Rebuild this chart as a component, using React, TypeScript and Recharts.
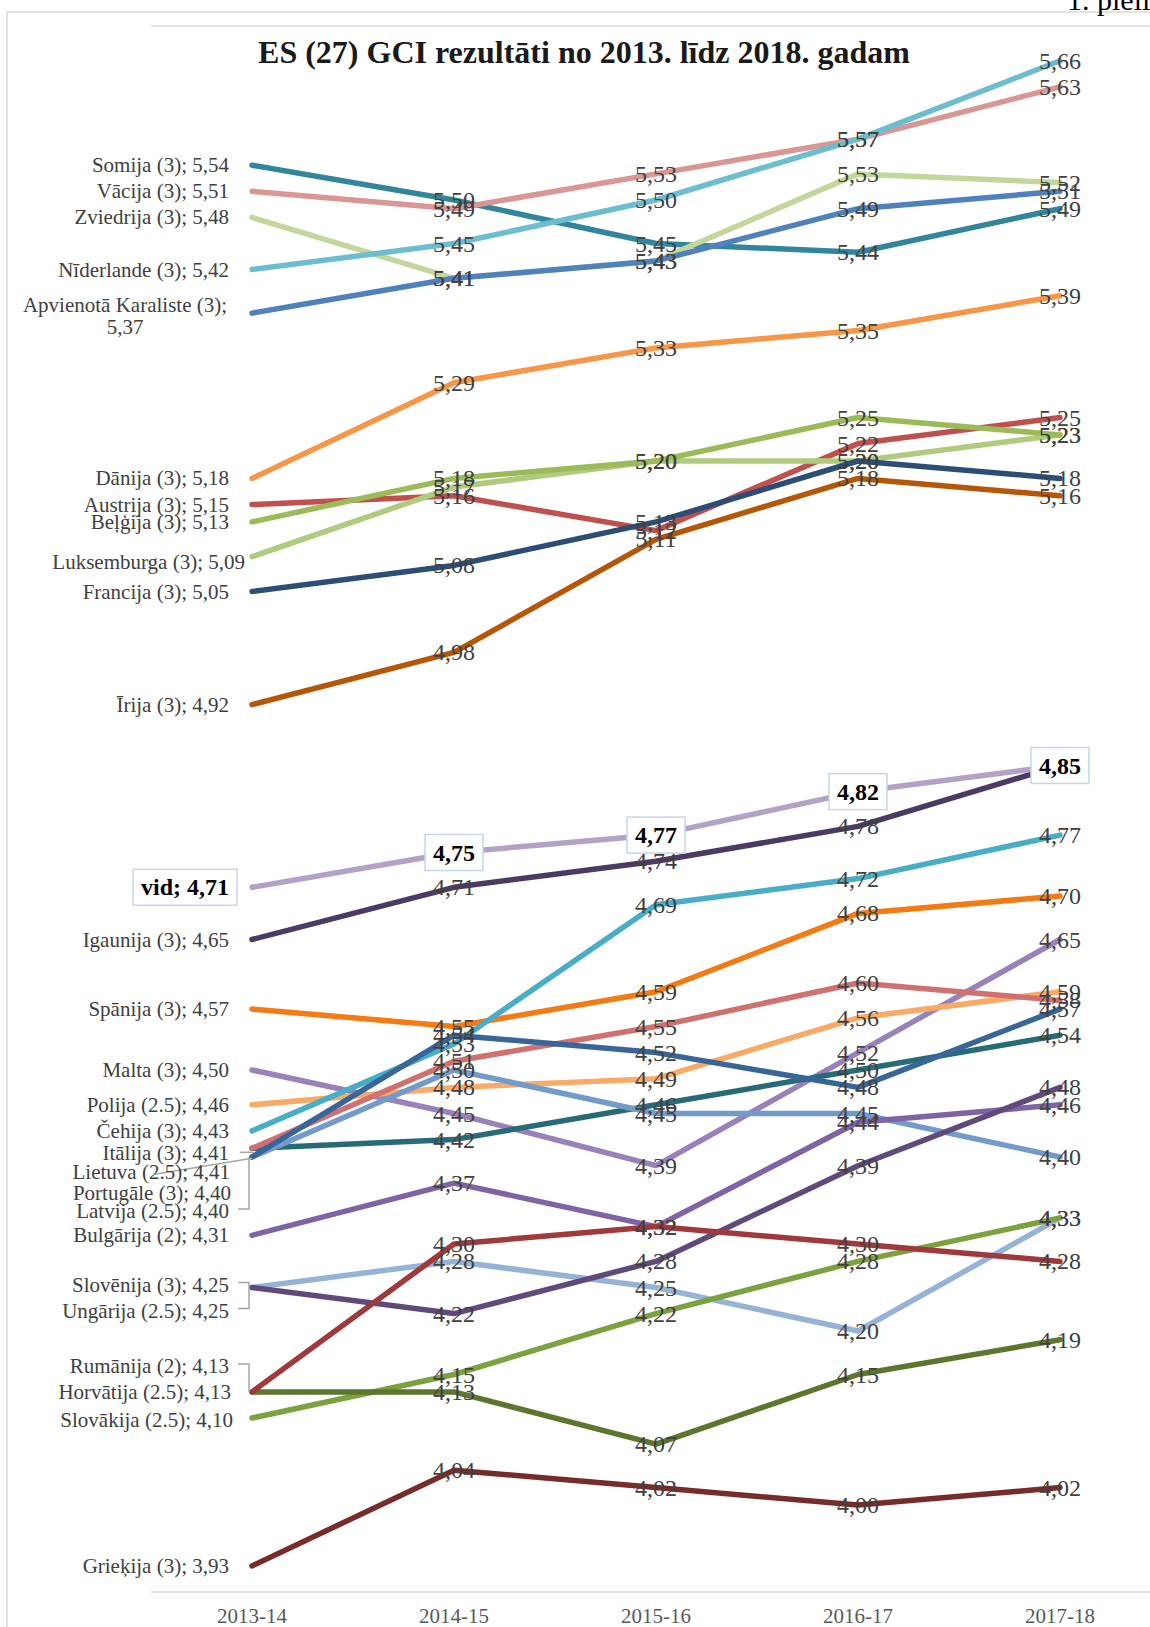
import React from "react";
import { LineChart, Line, XAxis, YAxis, CartesianGrid, LabelList } from "recharts";

const FONT = '"Liberation Serif", "Times New Roman", serif';

const years = ["2013-14", "2014-15", "2015-16", "2016-17", "2017-18"];
const gridTicks = [3.9, 4.1, 4.3, 4.5, 4.7, 4.9, 5.1, 5.3, 5.5, 5.7];

// GCI rezultāti pa gadiem
const somija = [5.54, 5.5, 5.45, 5.44, 5.49];
const vacija = [5.51, 5.49, 5.53, 5.57, 5.63];
const zviedrija = [5.48, 5.41, 5.43, 5.53, 5.52];
const niderlande = [5.42, 5.45, 5.5, 5.57, 5.66];
const apvKaraliste = [5.37, 5.41, 5.43, 5.49, 5.51];
const danija = [5.18, 5.29, 5.33, 5.35, 5.39];
const austrija = [5.15, 5.16, 5.12, 5.22, 5.25];
const belgija = [5.13, 5.18, 5.2, 5.25, 5.23];
const luksemburga = [5.09, 5.17, 5.2, 5.2, 5.23];
const francija = [5.05, 5.08, 5.13, 5.2, 5.18];
const irija = [4.92, 4.98, 5.11, 5.18, 5.16];
const igaunija = [4.65, 4.71, 4.74, 4.78, 4.85];
const spanija = [4.57, 4.55, 4.59, 4.68, 4.7];
const malta = [4.5, 4.45, 4.39, 4.52, 4.65];
const polija = [4.46, 4.48, 4.49, 4.56, 4.59];
const cehija = [4.43, 4.53, 4.69, 4.72, 4.77];
const italija = [4.41, 4.42, 4.46, 4.5, 4.54];
const lietuva = [4.41, 4.51, 4.55, 4.6, 4.58];
const portugale = [4.4, 4.54, 4.52, 4.48, 4.57];
const latvija = [4.4, 4.5, 4.45, 4.45, 4.4];
const bulgarija = [4.31, 4.37, 4.32, 4.44, 4.46];
const slovenija = [4.25, 4.22, 4.28, 4.39, 4.48];
const ungarija = [4.25, 4.28, 4.25, 4.2, 4.33];
const rumanija = [4.13, 4.3, 4.32, 4.3, 4.28];
const horvatija = [4.13, 4.13, 4.07, 4.15, 4.19];
const slovakija = [4.1, 4.15, 4.22, 4.28, 4.33];
const griekija = [3.93, 4.04, 4.02, 4.0, 4.02];
const vid = [4.71, 4.75, 4.77, 4.82, 4.85];

type Series = { key: string; name: string; values: number[]; color: string; avg?: boolean };

const series: Series[] = [
  { key: "somija", name: "Somija (3)", values: somija, color: "#31859C" },
  { key: "vacija", name: "Vācija (3)", values: vacija, color: "#D99694" },
  { key: "zviedrija", name: "Zviedrija (3)", values: zviedrija, color: "#C3D69B" },
  { key: "niderlande", name: "Nīderlande (3)", values: niderlande, color: "#6DBDD1" },
  { key: "apvKaraliste", name: "Apvienotā Karaliste (3)", values: apvKaraliste, color: "#4F81BD" },
  { key: "danija", name: "Dānija (3)", values: danija, color: "#F79646" },
  { key: "austrija", name: "Austrija (3)", values: austrija, color: "#C0504D" },
  { key: "luksemburga", name: "Luksemburga (3)", values: luksemburga, color: "#AFCB7E" },
  { key: "belgija", name: "Beļģija (3)", values: belgija, color: "#9BBB59" },
  { key: "irija", name: "Īrija (3)", values: irija, color: "#B65708" },
  { key: "francija", name: "Francija (3)", values: francija, color: "#2C4D75" },
  { key: "spanija", name: "Spānija (3)", values: spanija, color: "#F47B13" },
  { key: "malta", name: "Malta (3)", values: malta, color: "#9982BA" },
  { key: "polija", name: "Polija (2.5)", values: polija, color: "#F9AA66" },
  { key: "cehija", name: "Čehija (3)", values: cehija, color: "#48ADC6" },
  { key: "italija", name: "Itālija (3)", values: italija, color: "#286B78" },
  { key: "lietuva", name: "Lietuva (2.5)", values: lietuva, color: "#D0716F" },
  { key: "latvija", name: "Latvija (2.5)", values: latvija, color: "#729ACB" },
  { key: "portugale", name: "Portugāle (3)", values: portugale, color: "#386699" },
  { key: "bulgarija", name: "Bulgārija (2)", values: bulgarija, color: "#7E63A5" },
  { key: "ungarija", name: "Ungārija (2.5)", values: ungarija, color: "#95B3D7" },
  { key: "slovenija", name: "Slovēnija (3)", values: slovenija, color: "#604A7B" },
  { key: "slovakija", name: "Slovākija (2.5)", values: slovakija, color: "#7BA23F" },
  { key: "horvatija", name: "Horvātija (2.5)", values: horvatija, color: "#5D762E" },
  { key: "rumanija", name: "Rumānija (2)", values: rumanija, color: "#A0393B" },
  { key: "griekija", name: "Grieķija (3)", values: griekija, color: "#772C2A" },
  { key: "igaunija", name: "Igaunija (3)", values: igaunija, color: "#4A3A64" },
  { key: "vid", name: "vid", values: vid, color: "#B3A2C7", avg: true },
];

const rows = years.map((year, i) => {
  const row: Record<string, string | number> = { year };
  series.forEach((s) => (row[s.key] = s.values[i]));
  return row;
});

// pirmā punkta uzrakstu nobīdes un vadlīnijas
const startLabelMove: Record<string, { dx?: number; dy?: number; leader?: string }> = {
  "Luksemburga (3)": { dx: 16, dy: 5 },
  "Itālija (3)": { dy: 5, leader: "short" },
  "Lietuva (2.5)": { dx: 1, dy: 24, leader: "diag" },
  "Portugāle (3)": { dx: 2, dy: 36 },
  "Latvija (2.5)": { dy: 54, leader: "elbow" },
  "Slovēnija (3)": { dy: -3, leader: "elbow" },
  "Ungārija (2.5)": { dy: 23, leader: "elbow" },
  "Rumānija (2)": { dy: -26, leader: "elbow" },
  "Horvātija (2.5)": { dx: 2 },
  "Slovākija (2.5)": { dx: 4, dy: 2 },
};

const fmt = (v: number) => v.toFixed(2).replace(".", ",");

function makeLabel(s: Series) {
  return (props: any) => {
    const x = props.x ?? props.viewBox?.x;
    const y = props.y ?? props.viewBox?.y;
    const index = props.index;
    const value = Number(props.value);
    if (x == null || y == null) return null;

    if (s.avg) {
      const w = index === 0 ? 104 : 58;
      const cx = index === 0 ? x - 15 - w / 2 : x;
      const text = index === 0 ? `vid; ${fmt(value)}` : fmt(value);
      return (
        <g>
          <rect x={cx - w / 2} y={y - 18} width={w} height={36} fill="#fff" stroke="#C6D5EA" strokeWidth={1.5} />
          <text x={cx} y={y} textAnchor="middle" dominantBaseline="central" fontFamily={FONT} fontSize={24} fontWeight="bold" fill="#000">
            {text}
          </text>
        </g>
      );
    }

    if (index === 0) {
      if (s.key === "apvKaraliste") {
        return (
          <text textAnchor="middle" fontFamily={FONT} fontSize={21} fill="#404040">
            <tspan x={125} y={y - 8} dominantBaseline="central">{s.name};</tspan>
            <tspan x={125} y={y + 14} dominantBaseline="central">{fmt(value)}</tspan>
          </text>
        );
      }
      const m = startLabelMove[s.name] || {};
      const lx = x - 23 + (m.dx || 0);
      const ly = y + (m.dy || 0);
      let leader = null;
      if (m.leader === "short") leader = `M${x - 12},${ly - 1} H${x + 2}`;
      if (m.leader === "elbow") leader = `M${x - 14},${ly - 2} H${x - 3} V${y}`;
      if (m.leader === "diag") leader = `M${x - 97},${ly + 2} L${x},${y + 10}`;
      return (
        <g>
          {leader && <path d={leader} stroke="#A6A6A6" strokeWidth={1.5} fill="none" />}
          <text x={lx} y={ly} textAnchor="end" dominantBaseline="central" fontFamily={FONT} fontSize={21} fill="#404040">
            {`${s.name}; ${fmt(value)}`}
          </text>
        </g>
      );
    }

    return (
      <text x={x} y={y} textAnchor="middle" dominantBaseline="central" fontFamily={FONT} fontSize={24} fill="#404040">
        {fmt(value)}
      </text>
    );
  };
}

export default function App() {
  return (
    <div style={{ position: "absolute", left: 0, top: 0, width: 1150, height: 1627, overflow: "hidden", background: "#fff" }}>
      <svg width={1150} height={1627} style={{ position: "absolute", left: 0, top: 0 }}>
        <path d="M7,1627 V12 H1150" stroke="#D9D9D9" strokeWidth={1.5} fill="none" />
        <text x={1067} y={10} fontFamily={FONT} fontSize={30} fill="#000">
          1. pielikums
        </text>
        <text x={584} y={52} textAnchor="middle" dominantBaseline="central" fontFamily={FONT} fontSize={32} fontWeight="bold" fill="#1A1A1A">
          ES (27) GCI rezultāti no 2013. līdz 2018. gadam
        </text>
      </svg>
      <div style={{ position: "absolute", left: 0, top: 0 }}>
        <LineChart width={1170} height={1627} data={rows} margin={{ top: 26, right: 9, left: 151, bottom: 0 }}>
          <CartesianGrid vertical={false} stroke="#D9D9D9" strokeWidth={1.5} />
          <XAxis
            dataKey="year"
            padding={{ left: 101, right: 101 }}
            axisLine={false}
            tickLine={false}
            height={35}
            tickMargin={10}
            interval={0}
            tick={{ fontSize: 21, fill: "#595959", fontFamily: FONT }}
          />
          <YAxis domain={[3.9, 5.7]} ticks={gridTicks} width={0} tick={false} axisLine={false} tickLine={false} />
          {series.map((s) => (
            <Line
              key={s.key}
              dataKey={s.key}
              stroke={s.color}
              strokeWidth={5.5}
              strokeLinecap="round"
              strokeLinejoin="round"
              dot={false}
              activeDot={false}
              isAnimationActive={false}
            >
              <LabelList dataKey={s.key} content={makeLabel(s)} />
            </Line>
          ))}
        </LineChart>
      </div>
    </div>
  );
}
